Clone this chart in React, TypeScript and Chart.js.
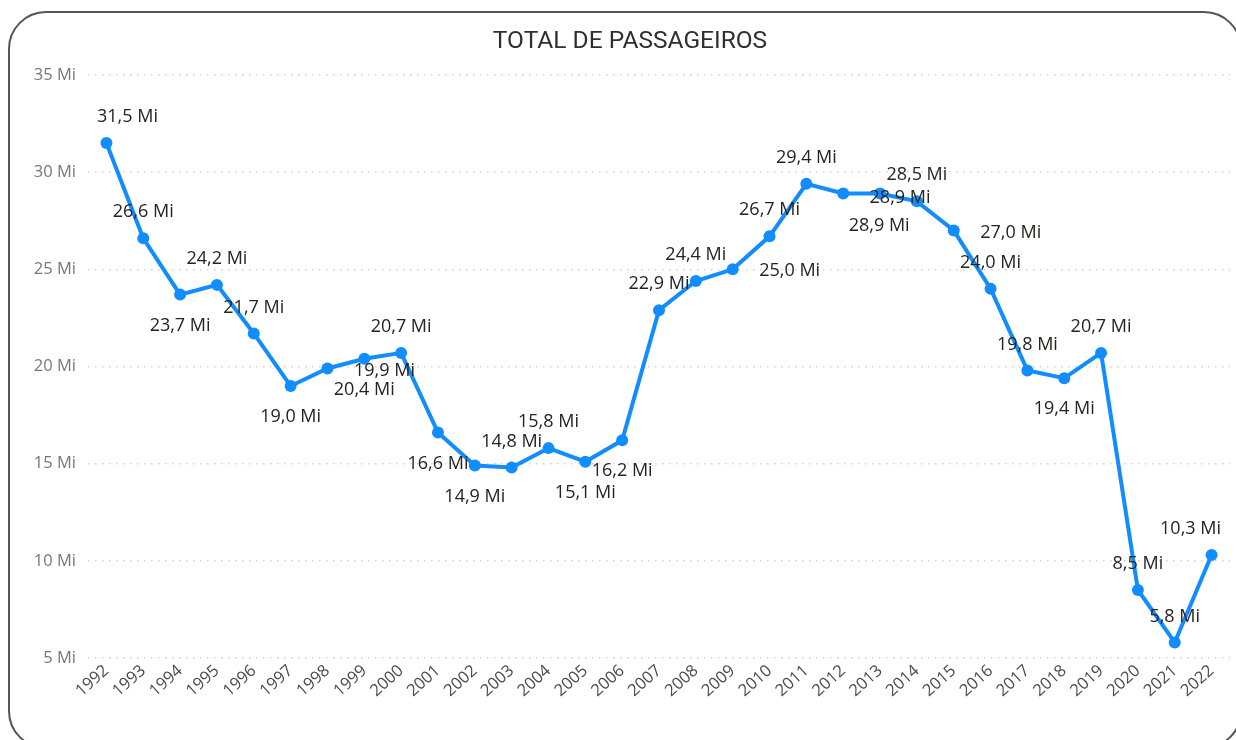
import React, { useEffect, useRef } from "react";
import { Chart, registerables } from "chart.js";

Chart.register(...registerables);

const years = [
  "1992","1993","1994","1995","1996","1997","1998","1999","2000","2001",
  "2002","2003","2004","2005","2006","2007","2008","2009","2010","2011",
  "2012","2013","2014","2015","2016","2017","2018","2019","2020","2021","2022",
];

const passengers = [
  31.5, 26.6, 23.7, 24.2, 21.7, 19.0, 19.9, 20.4, 20.7, 16.6,
  14.9, 14.8, 15.8, 15.1, 16.2, 22.9, 24.4, 25.0, 26.7, 29.4,
  28.9, 28.9, 28.5, 27.0, 24.0, 19.8, 19.4, 20.7, 8.5, 5.8, 10.3,
];

const labelPlacement = [
  "above","above","below","above","above","below","right","below","above","below",
  "below","above","above","below","below","above","above","right","above","above",
  "belowRight","nearRight","above","right","above","above","below","above","above","above","above",
];

const yTicks = [5, 10, 15, 20, 25, 30, 35];

const title = "TOTAL DE PASSAGEIROS";

const fmt = (v: number) => v.toFixed(1).replace(".", ",") + " Mi";

const placementOffset: Record<string, [number, number]> = {
  above: [0, -26],
  below: [0, 31],
  right: [57, 2],
  belowRight: [36, 32],
  nearRight: [20, 4],
};

const titlePlugin = {
  id: "cardTitle",
  afterDraw(chart: any) {
    const ctx = chart.ctx;
    ctx.save();
    ctx.font = '400 24.5px "Roboto"';
    ctx.fillStyle = "#2f2f2f";
    ctx.textAlign = "center";
    ctx.textBaseline = "middle";
    ctx.fillText(title, 630, 42);
    ctx.restore();
  },
};

const dataLabelPlugin = {
  id: "dataLabels",
  afterDatasetsDraw(chart: any) {
    const ctx = chart.ctx;
    const meta = chart.getDatasetMeta(0);
    const area = chart.chartArea;
    ctx.save();
    ctx.font = '18px "Open Sans"';
    ctx.fillStyle = "#252423";
    ctx.textAlign = "center";
    ctx.textBaseline = "middle";
    meta.data.forEach((pt: any, i: number) => {
      const text = fmt(passengers[i]);
      const w = ctx.measureText(text).width;
      const off = placementOffset[labelPlacement[i]] || [0, -26];
      let x = pt.x + off[0];
      const y = pt.y + off[1];
      const minX = area.left + 9 + w / 2;
      const maxX = area.right - 9 - w / 2;
      if (x < minX) x = minX;
      if (x > maxX) x = maxX;
      ctx.fillText(text, x, y);
    });
    ctx.restore();
  },
};

export default function App() {
  const canvasRef = useRef<HTMLCanvasElement | null>(null);

  useEffect(() => {
    const canvas = canvasRef.current;
    if (!canvas) return;
    const chart = new Chart(canvas, {
      type: "line",
      data: {
        labels: years,
        datasets: [
          {
            data: passengers,
            borderColor: "#118DFF",
            backgroundColor: "#118DFF",
            borderWidth: 4,
            pointRadius: 6,
            pointBorderWidth: 0,
            pointBackgroundColor: "#118DFF",
            tension: 0,
          },
        ],
      },
      options: {
        responsive: false,
        animation: false,
        devicePixelRatio: 1,
        layout: { padding: { left: 0, right: 5, top: 75, bottom: 0 } },
        plugins: {
          legend: { display: false },
          tooltip: { enabled: false },
          title: { display: false },
        },
        scales: {
          x: {
            type: "category",
            offset: true,
            grid: { display: false, drawTicks: false },
            border: { display: false },
            ticks: {
              autoSkip: false,
              maxRotation: 42,
              minRotation: 42,
              color: "#4a4a4a",
              font: { family: "Open Sans", size: 16.5 },
              padding: 3,
            },
            afterFit(scale: any) {
              scale.height = 82;
            },
          },
          y: {
            min: yTicks[0],
            max: yTicks[yTicks.length - 1],
            afterBuildTicks(scale: any) {
              scale.ticks = yTicks.map((v) => ({ value: v }));
            },
            grid: { color: "#d2d2d2", lineWidth: 1.5, drawTicks: false },
            border: { display: false, dash: [1.5, 5.5] },
            ticks: {
              color: "#777777",
              font: { family: "Open Sans", size: 16.5 },
              padding: 12,
              callback: (v: any) => v + " Mi",
            },
            afterFit(scale: any) {
              scale.width = 88;
            },
          },
        },
      },
      plugins: [dataLabelPlugin, titlePlugin],
    });
    return () => chart.destroy();
  }, []);

  return (
    <div
      style={{
        position: "fixed",
        left: 0,
        top: 0,
        width: 1236,
        height: 740,
        overflow: "hidden",
        background: "#ffffff",
      }}
    >
      <div
        style={{
          position: "absolute",
          left: 8,
          top: 11,
          width: 1234,
          height: 738,
          border: "2px solid #555555",
          borderRadius: 38,
          boxSizing: "border-box",
        }}
      />
      <canvas
        ref={canvasRef}
        width={1236}
        height={740}
        style={{ position: "absolute", left: 0, top: 0, width: 1236, height: 740 }}
      />
    </div>
  );
}
